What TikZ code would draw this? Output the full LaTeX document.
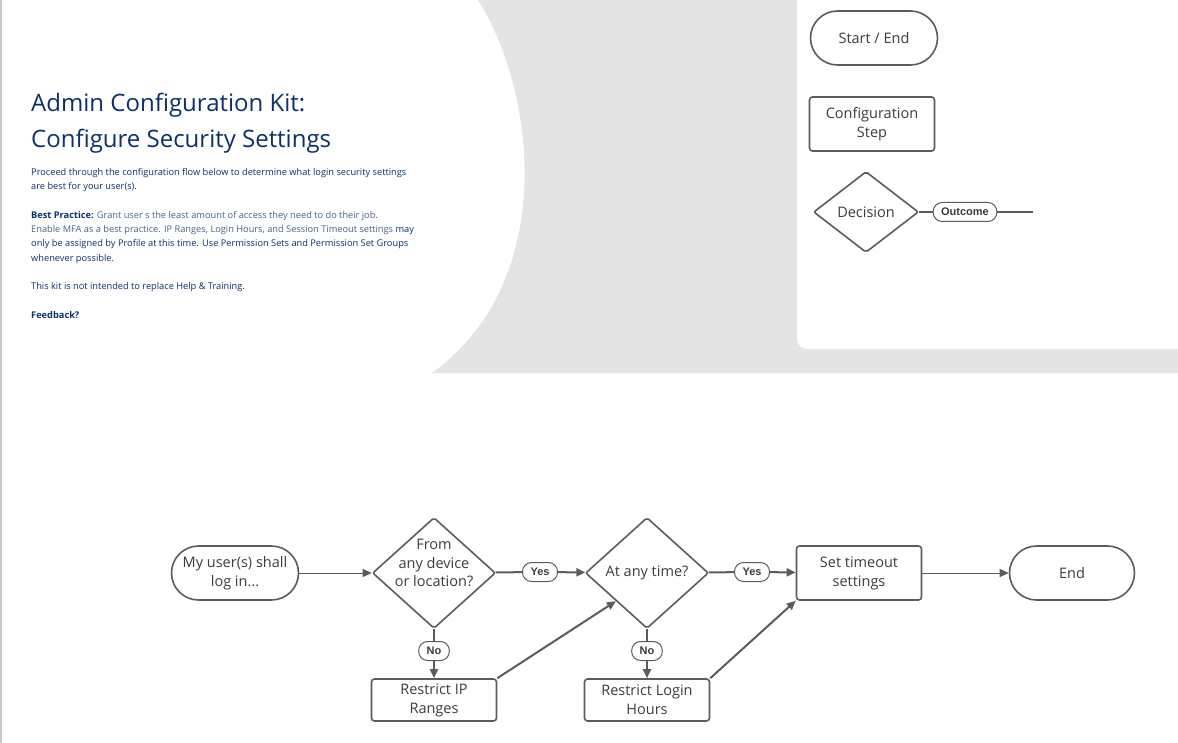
\documentclass[tikz,border=0pt]{standalone}
\usepackage{fontspec}
\setmainfont{Open Sans}
\newfontfamily\pillfont{Liberation Sans}
\usetikzlibrary{shapes.geometric,arrows.meta}
\definecolor{linegray}{HTML}{5C5C5C}
\definecolor{bggray}{HTML}{E4E4E4}
\definecolor{edgegray}{HTML}{C8C8C8}
\definecolor{navy}{HTML}{0B3168}
\definecolor{softnavy}{HTML}{4B6287}
\definecolor{inkgray}{HTML}{3C3C3C}
\begin{document}
\begin{tikzpicture}[
x=1pt,
y=-1pt,
every node/.style={font=\fontsize{14.5}{19}\selectfont, text=inkgray, align=center},
terminal/.style={draw=linegray, line width=1.6pt, rounded corners=27pt, minimum width=127pt, minimum height=54pt},
stepbox/.style={draw=linegray, line width=1.6pt, rounded corners=3pt, minimum width=125pt, minimum height=54pt},
decision/.style={draw=linegray, line width=1.6pt, diamond, rounded corners=2pt, minimum width=123pt, minimum height=111pt, inner sep=-20pt},
pill/.style={draw=linegray, line width=1pt, fill=white, rounded corners=9pt, minimum height=19pt, inner xsep=8pt, inner ysep=2pt, font=\pillfont\bfseries\fontsize{11}{12}\selectfont},
flow/.style={draw=linegray, line width=2pt},
thin flow/.style={draw=linegray, line width=1pt},
pointed/.style={-{Triangle[length=9pt,width=8pt]}},
heading/.style={anchor=base west, inner sep=0pt, text=navy, font=\fontsize{24}{36}\selectfont}
]
\useasboundingbox (0,0) rectangle (1178,743);

% backdrop
\fill[bggray] (478,0) .. controls (535,90) and (560,280) .. (432,373) -- (1178,373) -- (1178,0) -- cycle;
\fill[white, rounded corners=10pt] (797,-20) rectangle (1200,349);
\draw[edgegray, line width=1.5pt] (1,0) -- (1,743);

% heading and notes
\node[heading] (title1) at (31,112) {Admin Configuration Kit:};
\node[heading] (title2) at (31,148) {Configure Security Settings};
\node[anchor=north west, align=left, text=navy, inner sep=0pt, font=\fontsize{9.25}{14.3}\selectfont] (notes) at (31,168) {%
Proceed through the configuration flow below to determine what login security settings\\
are best for your user(s).\\[14.3pt]
\textbf{Best Practice:} \textcolor{softnavy}{Grant user s the least amount of access they need to do their job.}\\
\textcolor{softnavy}{Enable MFA as a best practice. IP Ranges, Login Hours, and Session Timeout settings} may\\
only be assigned by Profile at this time. Use Permission Sets and Permission Set Groups\\
whenever possible.\\[14.3pt]
This kit is not intended to replace Help \& Training.\\[14.3pt]
\textbf{Feedback?}};

% legend
\node[terminal] (startend) at (874,38) {Start / End};
\node[stepbox] (configstep) at (872,124) {Configuration\\Step};
\node[decision, minimum width=105pt, minimum height=81pt] (decision) at (866,212) {Decision};
\node[pill] (outcome) at (965,212) {Outcome};
\coordinate (outcomeend) at (1033,212);
\draw[flow] (decision) -- (outcome);
\draw[flow] (outcome) -- (outcomeend);

% main row
\node[terminal] (login) at (235,573) {My user(s) shall\\log in...};
\node[decision, label={[yshift=10pt, font=\fontsize{14.5}{18.5}\selectfont]center:{From\\any device\\or location?}}] (anydevice) at (434,573) {};
\node[pill] (yes1) at (540,572) {Yes};
\node[decision] (anytime) at (647,573) {At any time?};
\node[pill] (yes2) at (752,572) {Yes};
\node[stepbox] (timeout) at (859,573) {Set timeout\\settings};
\node[terminal, minimum width=125pt] (end) at (1072,573) {End};

% restrictions
\node[pill] (no1) at (434,651) {No};
\node[pill] (no2) at (647,651) {No};
\node[stepbox, minimum height=42pt] (iprange) at (434,700) {Restrict IP\\Ranges};
\node[stepbox, minimum height=42pt] (loginhours) at (647,700) {Restrict Login\\Hours};

% connectors
\draw[thin flow, pointed] (login) -- (anydevice);
\draw[flow] (anydevice) -- (yes1);
\draw[flow, pointed] (yes1) -- (anytime);
\draw[flow] (anytime) -- (yes2);
\draw[flow, pointed] (yes2) -- (timeout);
\draw[thin flow, pointed] (timeout) -- (end);

\draw[flow] (anydevice) -- (no1);
\draw[flow, pointed] (no1) -- (iprange);
\draw[flow] (anytime) -- (no2);
\draw[flow, pointed] (no2) -- (loginhours);

\draw[flow, pointed] (iprange.north east) -- (anytime.south west);
\draw[flow, pointed] (loginhours.north east) -- (timeout.south west);

\end{tikzpicture}
\end{document}
